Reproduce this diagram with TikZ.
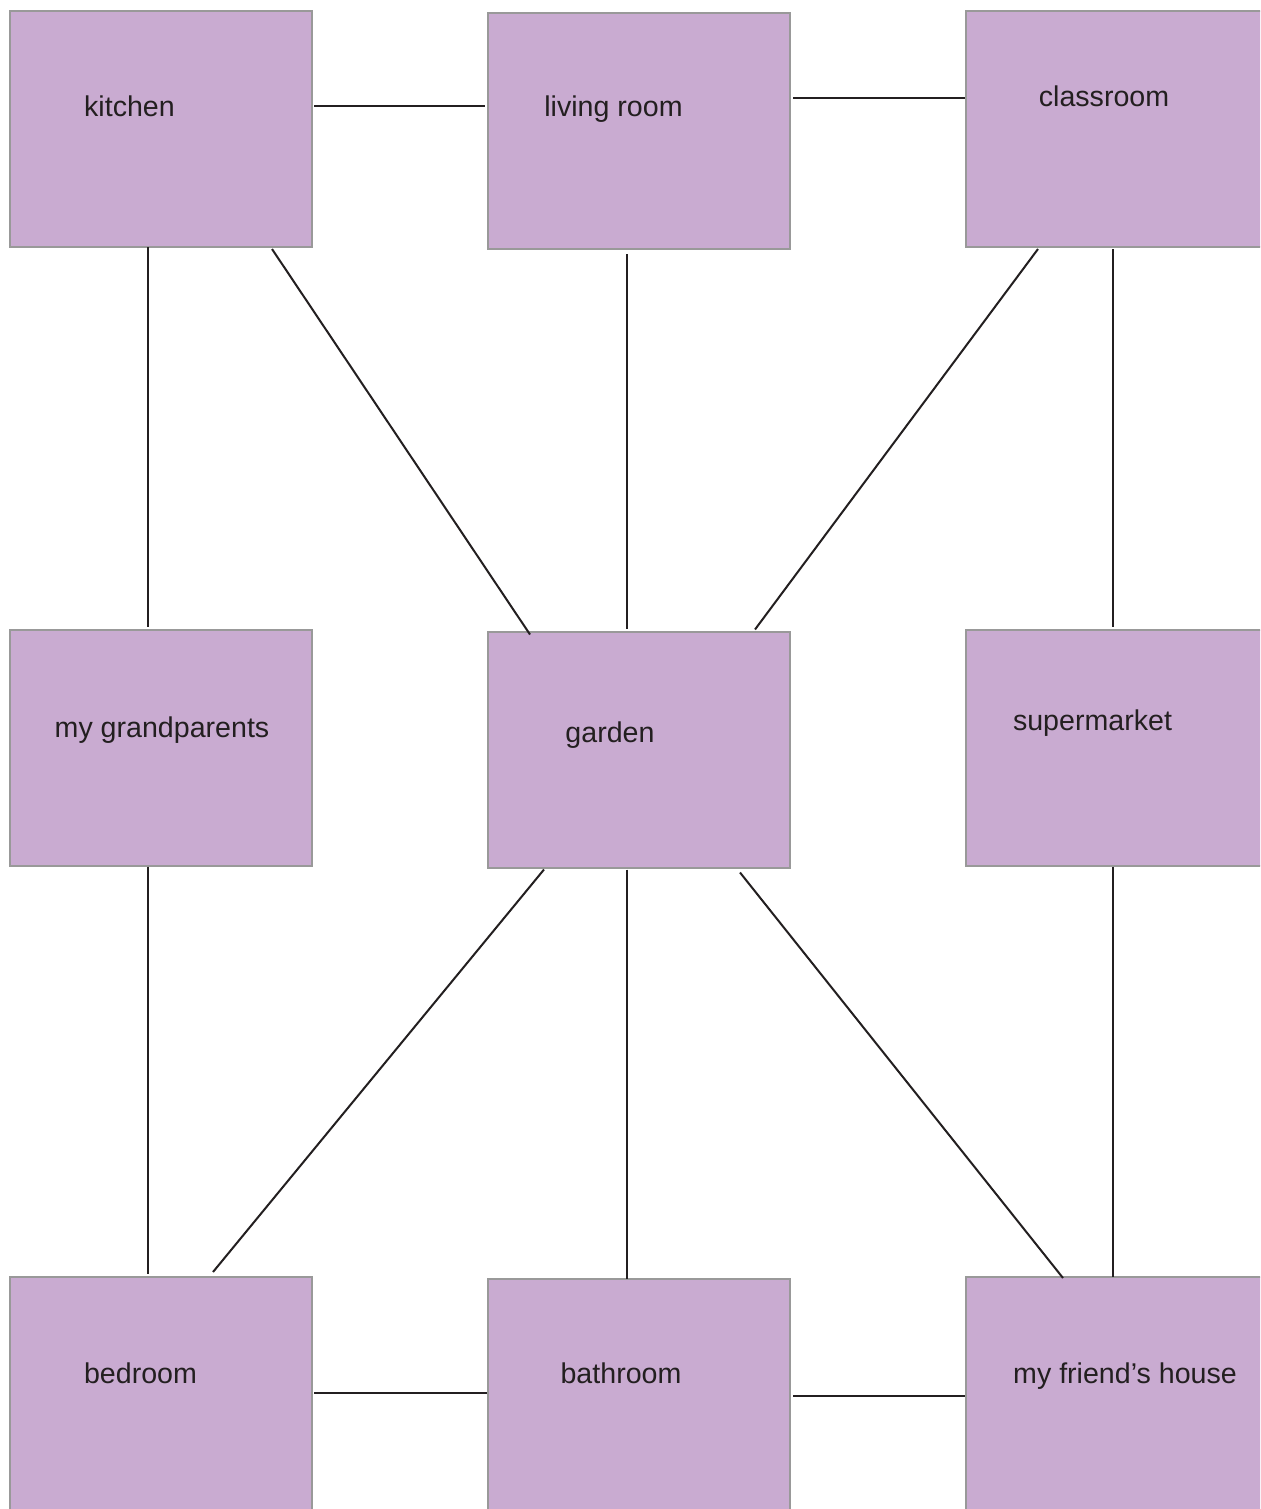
\documentclass[tikz,border=0pt]{standalone}
\usepackage{fontspec}
\setmainfont{Liberation Sans}
\usetikzlibrary{calc}
\definecolor{boxfill}{HTML}{C9ABD1}
\definecolor{boxline}{HTML}{999999}
\definecolor{ink}{HTML}{231F20}
\tikzset{
  room/.style={draw=boxline, fill=boxfill, line width=1pt, minimum width=151pt, minimum height=118pt, inner sep=0pt, outer sep=0pt},
  wideroom/.style={room, minimum width=170pt},
  roomlabel/.style={anchor=base, text=ink, font=\fontsize{14.3pt}{16pt}\selectfont, inner sep=0pt},
  link/.style={draw=ink, line width=1pt}
}
\begin{document}
\begin{tikzpicture}[x=0.5pt, y=-0.5pt]
\useasboundingbox (0,0) rectangle (1260,1509);
\clip (0,0) rectangle (1260,1509);
\fill[white] (0,0) rectangle (1260,1509);
% boxes
\node[room] (kitchen) at (161,129) {};
\node[room] (living) at (639,131) {};
\node[wideroom] (classroom) at (1136,129) {};
\node[room] (grand) at (161,747.5) {};
\node[room] (garden) at (639,749.5) {};
\node[wideroom] (super) at (1136,747.5) {};
\node[room] (bedroom) at (161,1395) {};
\node[room] (bathroom) at (639,1397) {};
\node[wideroom] (friend) at (1136,1395) {};
% labels
\node[roomlabel] (lkitchen) at (129.5,117) {kitchen};
\node[roomlabel] (lliving) at (613.5,117) {living room};
\node[roomlabel] (lclassroom) at (1104,106) {classroom};
\node[roomlabel] (lgrand) at (162,737) {my grandparents};
\node[roomlabel] (lgarden) at (610,742) {garden};
\node[roomlabel] (lsuper) at (1092.5,730) {supermarket};
\node[roomlabel] (lbedroom) at (140.5,1383) {bedroom};
\node[roomlabel] (lbathroom) at (621,1383) {bathroom};
\node[roomlabel] (lfriend) at (1125,1383) {my friend’s house};
% connectors
\draw[link] ($(kitchen.east)+(2,-23)$) -- ($(living.west)+(-3,-25)$);
\draw[link] ($(living.east)+(3,-33)$) -- ($(classroom.west)+(-1,-31)$);
\draw[link] ($(kitchen.south)+(-13,0)$) -- ($(grand.north)+(-13,-3)$);
\draw[link] ($(kitchen.south)+(111,2)$) -- ($(garden.north)+(-109,3)$);
\draw[link] ($(living.south)+(-12,5)$) -- ($(garden.north)+(-12,-3)$);
\draw[link] ($(classroom.south)+(-98,2)$) -- ($(garden.north)+(116,-2)$);
\draw[link] ($(classroom.south)+(-23,2)$) -- ($(super.north)+(-23,-3)$);
\draw[link] ($(grand.south)+(-13,1)$) -- ($(bedroom.north)+(-13,-3)$);
\draw[link] ($(garden.south)+(-95,2)$) -- ($(bedroom.north)+(52,-5)$);
\draw[link] ($(garden.south)+(-12,2)$) -- ($(bathroom.north)+(-12,0)$);
\draw[link] ($(garden.south)+(101,5)$) -- ($(friend.north)+(-73,1)$);
\draw[link] ($(super.south)+(-23,1)$) -- ($(friend.north)+(-23,0)$);
\draw[link] ($(bedroom.east)+(2,-2)$) -- ($(bathroom.west)+(-1,-4)$);
\draw[link] ($(bathroom.east)+(3,-1)$) -- ($(friend.west)+(-1,1)$);
\end{tikzpicture}
\end{document}
